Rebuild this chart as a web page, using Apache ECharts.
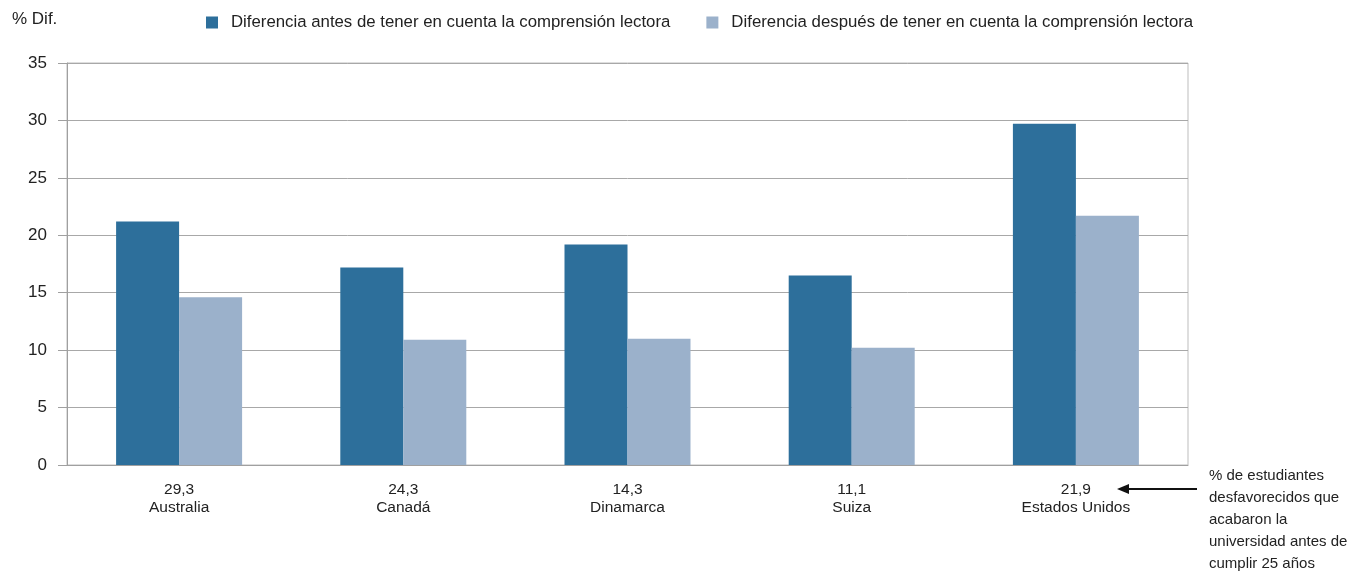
<!DOCTYPE html>
<html>
<head>
<meta charset="utf-8">
<script src="https://cdn.jsdelivr.net/npm/echarts@6/dist/echarts.min.js"></script>
<style>
  html, body { margin: 0; padding: 0; background: #fff; }
  #chart { width: 1349px; height: 571px; }
</style>
</head>
<body>
<div id="chart"></div>
<script>
// data
const countries = ["Australia", "Canadá", "Dinamarca", "Suiza", "Estados Unidos"];
const shareLabels = ["29,3", "24,3", "14,3", "11,1", "21,9"];
const before = [21.2, 17.2, 19.2, 16.5, 29.7];
const after = [14.6, 10.9, 11.0, 10.2, 21.7];
const seriesNames = [
  "Diferencia antes de tener en cuenta la comprensión lectora",
  "Diferencia después de tener en cuenta la comprensión lectora"
];
const yTicks = { min: 0, max: 35, interval: 5 };

const font = "'Liberation Sans', Arial, sans-serif";
const chart = echarts.init(document.getElementById("chart"));

chart.setOption({
  animation: false,
  textStyle: { fontFamily: font, color: "#222" },
  grid: {
    left: 67, right: 161, top: 63, bottom: 106,
    show: true, borderColor: "#bdbdbd", borderWidth: 1
  },
  legend: {
    left: 201, top: 9,
    icon: "rect", itemWidth: 12, itemHeight: 12, itemGap: 36,
    textStyle: { fontFamily: font, fontSize: 16.8, color: "#222", padding: [0, 0, 0, 8] },
    data: seriesNames
  },
  xAxis: {
    type: "category",
    data: countries,
    axisLine: { lineStyle: { color: "#a0a0a0" } },
    axisTick: { show: false },
    axisLabel: {
      margin: 16,
      fontSize: 15.5,
      lineHeight: 18,
      color: "#222",
      formatter: (v, i) => shareLabels[i] + "\n" + v
    }
  },
  yAxis: {
    type: "value",
    min: yTicks.min, max: yTicks.max, interval: yTicks.interval,
    axisLine: { show: true, lineStyle: { color: "#a0a0a0" } },
    axisTick: { show: true, inside: false, length: 9, lineStyle: { color: "#a0a0a0" } },
    axisLabel: { margin: 20, fontSize: 17, color: "#222" },
    splitLine: { lineStyle: { color: "#a8a8a8", width: 1 } }
  },
  series: [
    {
      name: seriesNames[0], type: "bar", data: before,
      barWidth: 63, barGap: "0%",
      itemStyle: { color: "#2d6f9b" }
    },
    {
      name: seriesNames[1], type: "bar", data: after,
      barWidth: 63, barGap: "0%",
      itemStyle: { color: "#9bb1cb" }
    }
  ],
  graphic: [
    {
      type: "text", left: 12, top: 11,
      style: { text: "% Dif.", font: "17px " + font, fill: "#222" }
    },
    {
      type: "text", left: 1209, top: 465,
      style: {
        text: "% de estudiantes\ndesfavorecidos que\nacabaron la\nuniversidad antes de\ncumplir 25 años",
        font: "15px " + font, lineHeight: 22, fill: "#222"
      }
    },
    {
      type: "line",
      shape: { x1: 1197, y1: 489, x2: 1126, y2: 489 },
      style: { stroke: "#111", lineWidth: 2 }
    },
    {
      type: "polygon",
      shape: { points: [[1117, 489], [1129, 484], [1129, 494]] },
      style: { fill: "#111" }
    }
  ]
});
</script>
</body>
</html>
